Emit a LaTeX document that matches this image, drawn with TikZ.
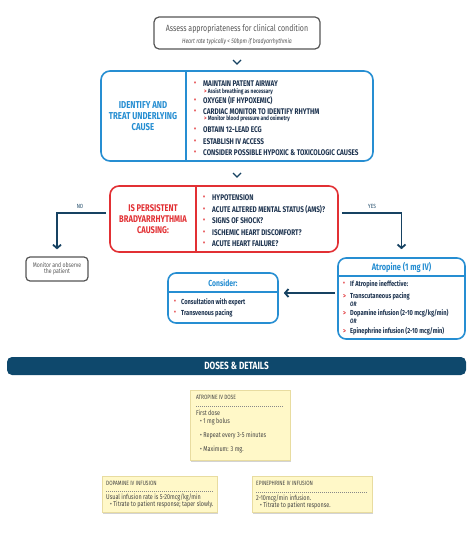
\documentclass[tikz,border=0pt]{standalone}
\usepackage{fontspec}
\setmainfont{Fira Sans}[FakeStretch=0.78]
\usetikzlibrary{arrows.meta,shadows}

\definecolor{bluebox}{RGB}{38,142,210}
\definecolor{redbox}{RGB}{226,48,52}
\definecolor{navy}{RGB}{22,66,98}
\definecolor{ink}{RGB}{30,52,80}
\definecolor{grayline}{RGB}{85,85,85}
\definecolor{notefill}{RGB}{255,248,200}
\definecolor{noteline}{RGB}{232,220,160}
\definecolor{bannerfill}{RGB}{14,72,108}
\newcommand{\fsz}[1]{\fontsize{#1}{#1}\selectfont}

\tikzset{
  box/.style={draw=#1, rounded corners=9pt, line width=1.6pt, fill=white},
  sepline/.style={draw=#1, line width=1.3pt},
  item/.style={anchor=west, inner sep=0pt, text=ink, font=\bfseries\fsz{8.2}},
  subitem/.style={anchor=west, inner sep=0pt, text=ink, font=\bfseries\fsz{6.2}},
  smallitem/.style={anchor=west, inner sep=0pt, text=ink, font=\bfseries\fsz{7.3}},
  dot/.style={anchor=west, inner sep=0pt, text=redbox, font=\bfseries\fsz{7.5}},
  flow/.style={draw=navy, line width=1.8pt, -{Straight Barb[length=3.5pt,width=8pt]}},
  chevron/.style={draw=navy, line width=1.3pt},
  note/.style={fill=notefill, draw=noteline, drop shadow={shadow xshift=1pt, shadow yshift=-1.5pt, opacity=0.35}},
  notetext/.style={anchor=west, inner sep=0pt, text=grayline!80!black, font=\fsz{7}},
  notetitle/.style={anchor=west, inner sep=0pt, text=grayline!80!black, font=\fsz{6.2}},
  dotline/.style={draw=grayline!70, dash pattern=on 1pt off 1pt, line width=0.6pt},
}

\begin{document}
\begin{tikzpicture}[x=1pt,y=-1pt]
\useasboundingbox (0,0) rectangle (474,537);

% assess
\node[box=grayline, rounded corners=5pt, line width=1.2pt, minimum width=166pt, minimum height=32pt] (assess) at (237,33) {};
\node[text=grayline, font=\fsz{9}] (assesstxt) at (237,29) {Assess appropriateness for clinical condition};
\node[text=grayline, font=\itshape\fsz{6.6}] (hrtxt) at (237,41.5) {Heart rate typically < 50bpm if bradyarrhythmia};
\coordinate (chev1) at (237,62);
\draw[chevron] (chev1) ++(-4,-2) -- ++(4,4) -- ++(4,-4);

% identify
\node[box=bluebox, minimum width=272pt, minimum height=90pt] (identify) at (237,116) {};
\draw[sepline=bluebox] (186,71) -- (186,161);
\node[align=center, text=bluebox, font=\bfseries\fsz{10}] (idtitle) at (143,116) {IDENTIFY AND\\[1.2pt]TREAT UNDERLYING\\[1.2pt]CAUSE};
\foreach \y/\t in {84/MAINTAIN PATENT AIRWAY, 101/OXYGEN (IF HYPOXEMIC), 112/CARDIAC MONITOR TO IDENTIFY RHYTHM, 130/OBTAIN 12-LEAD ECG, 142/ESTABLISH IV ACCESS, 153/CONSIDER POSSIBLE HYPOXIC \& TOXICOLOGIC CAUSES}{
  \node[dot] at (194,\y) {•};
  \node[item] at (203,\y) {\t};
}
\node[subitem] (sub1) at (204,91.5) {\textcolor{redbox}{>} Assist breathing as necessary};
\node[subitem] (sub2) at (204,119) {\textcolor{redbox}{>} Monitor blood pressure and oximetry};
\coordinate (chev2) at (237,175);
\draw[chevron] (chev2) ++(-4,-2) -- ++(4,4) -- ++(4,-4);

% persistent
\node[box=redbox, minimum width=228pt, minimum height=66pt] (persist) at (224,219) {};
\draw[sepline=redbox] (196,186) -- (196,252);
\node[align=center, text=redbox, font=\bfseries\fsz{9.7}] (ptitle) at (153,219) {IS PERSISTENT\\[1.3pt]BRADYARRHYTHMIA\\[1.3pt]CAUSING:};
\foreach \y/\t in {198/HYPOTENSION, 210/ACUTE ALTERED MENTAL STATUS (AMS)?, 221/SIGNS OF SHOCK?, 233/ISCHEMIC HEART DISCOMFORT?, 244/ACUTE HEART FAILURE?}{
  \node[dot] at (203,\y) {•};
  \node[item] at (212,\y) {\t};
}

% no / yes
\node[draw=grayline, rounded corners=4pt, line width=1.2pt, minimum width=62pt, minimum height=24pt, align=center, text=grayline, font=\fsz{6.6}] (monitor) at (57,269) {Monitor and observe\\[-0.5pt]the patient};
\draw[flow] ([shift={(-3,-6)}]persist.west) -| ([yshift=7pt]monitor.north);
\node[text=navy, font=\fsz{6}] (nolbl) at (80,206) {NO};

\node[box=bluebox, rounded corners=8pt, minimum width=127pt, minimum height=81pt] (atropine) at (401.5,298.5) {};
\draw[sepline=bluebox] (338,276) -- (465,276);
\node[text=bluebox, font=\bfseries\fsz{9.5}] (atitle) at (401.5,267) {Atropine (1 mg IV)};
\draw[flow] ([shift={(3,-6)}]persist.east) -| ([yshift=8pt]atropine.north);
\node[text=navy, font=\fsz{6}] (yeslbl) at (372,206) {YES};
\node[dot, font=\bfseries\fsz{7}] at (343,284) {•};
\node[smallitem] at (350,284) {If Atropine ineffective:};
\node[dot, font=\bfseries\fsz{7}] at (343,296) {>};
\node[smallitem] at (350,296) {Transcutaneous pacing};
\node[smallitem, font=\bfseries\itshape\fsz{6.3}] at (350,304.5) {OR};
\node[dot, font=\bfseries\fsz{7}] at (343,313) {>};
\node[smallitem] at (350,313) {Dopamine infusion (2-10 mcg/kg/min)};
\node[smallitem, font=\bfseries\itshape\fsz{6.3}] at (350,321.5) {OR};
\node[dot, font=\bfseries\fsz{7}] at (343,331) {>};
\node[smallitem] at (350,331) {Epinephrine infusion (2-10 mcg/min)};

% consider
\node[box=bluebox, rounded corners=8pt, minimum width=110pt, minimum height=50pt] (consider) at (223,298) {};
\draw[sepline=bluebox] (168,292) -- (278,292);
\node[text=bluebox, font=\bfseries\fsz{8.7}] (ctitle) at (223,283) {Consider:};
\node[dot, font=\bfseries\fsz{7}] at (174,302) {•};
\node[smallitem] at (181,302) {Consultation with expert};
\node[dot, font=\bfseries\fsz{7}] at (174,313) {•};
\node[smallitem] at (181,313) {Transvenous pacing};
\draw[flow] ([shift={(-2,-5.5)}]atropine.west) -- ([shift={(5,-5)}]consider.east);

% doses banner
\node[fill=bannerfill, rounded corners=5pt, minimum width=459pt, minimum height=18pt, text=white, font=\bfseries\fsz{10.5}] (banner) at (236.5,366) {DOSES \& DETAILS};

% notes
\node[note, minimum width=100pt, minimum height=70pt] (atronote) at (240,425) {};
\node[notetitle] at (196,397.5) {ATROPINE IV DOSE};
\draw[dotline] (196,406) -- (284,406);
\node[notetext] at (196,413) {First dose};
\node[notetext] at (200,422) {• 1 mg bolus};
\node[notetext] at (200,436) {• Repeat every 3-5 minutes};
\node[notetext] at (200,450) {• Maximum: 3 mg.};

\node[note, minimum width=115pt, minimum height=36pt] (dopanote) at (159.5,494) {};
\node[notetitle] at (106,483) {DOPAMINE IV INFUSION};
\draw[dotline] (106,491) -- (213,491);
\node[notetext] at (106,497.5) {Usual infusion rate is 5-20mcg/kg/min};
\node[notetext] at (110,505) {• Titrate to patient response; taper slowly.};

\node[note, minimum width=120pt, minimum height=36pt] (epinote) at (312,494) {};
\node[notetitle] at (256,483) {EPINEPHRINE IV INFUSION};
\draw[dotline] (256,492) -- (368,492);
\node[notetext] at (256,498.5) {2-10mcg/min infusion.};
\node[notetext] at (260,506) {• Titrate to patient response.};
\end{tikzpicture}
\end{document}
